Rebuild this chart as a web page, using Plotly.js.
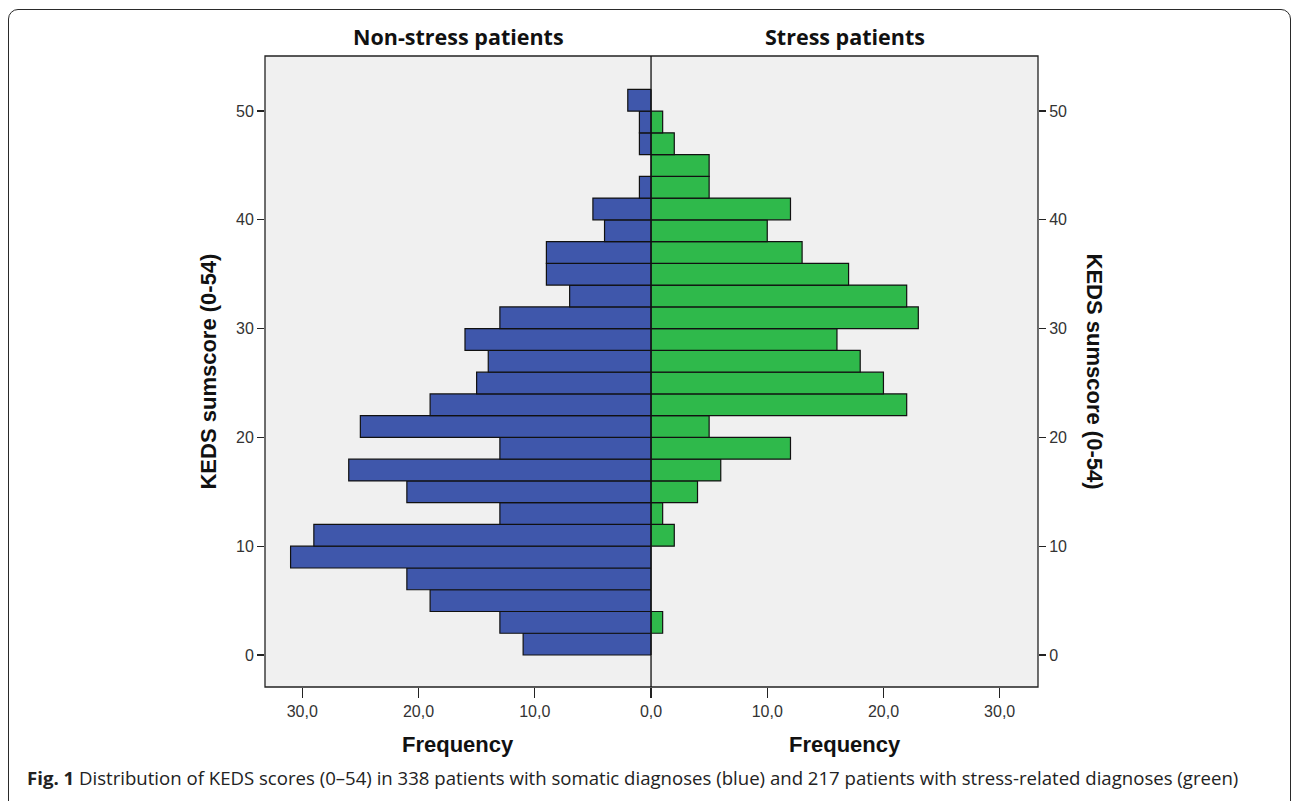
<!DOCTYPE html>
<html>
<head>
<meta charset="utf-8">
<script src="https://cdn.plot.ly/plotly-3.0.1.min.js"></script>
<style>
  html, body { margin: 0; padding: 0; background: #ffffff; width: 1292px; height: 801px; overflow: hidden; }
  #frame { position: absolute; left: 8px; top: 9px; width: 1283px; height: 900px;
           border: 1.6px solid #2a2a2a; border-radius: 10px 10px 0 0; box-sizing: border-box; }
  #chart { position: absolute; left: 0; top: 0; width: 1292px; height: 801px; }
</style>
</head>
<body>
<div id="frame"></div>
<div id="chart"></div>
<script>
// KEDS sumscore bins of width 2: [0,2), [2,4), ... [50,52]; centres listed
const binCenters = [1, 3, 5, 7, 9, 11, 13, 15, 17, 19, 21, 23, 25, 27, 29, 31, 33, 35, 37, 39, 41, 43, 45, 47, 49, 51];
// Frequency per bin, bottom (0-2) to top (50-52)
const nonStressFreq = [11, 13, 19, 21, 31, 29, 13, 21, 26, 13, 25, 19, 15, 14, 16, 13, 7, 9, 9, 4, 5, 1, 0, 1, 1, 2];
const stressFreq    = [0, 1, 0, 0, 0, 2, 1, 4, 6, 12, 5, 22, 20, 18, 16, 23, 22, 17, 13, 10, 12, 5, 5, 2, 1, 0];
const yTickVals = [0, 10, 20, 30, 40, 50];
const xTickValsLeft = [0, 10, 20, 30];
const xTickValsRight = [10, 20, 30];

const blue = '#3f57ab';
const green = '#2fb94b';

const traces = [
  {
    type: 'bar', orientation: 'h', x: nonStressFreq, y: binCenters, width: 2,
    xaxis: 'x', yaxis: 'y',
    marker: { color: blue, line: { color: '#111111', width: 1.2 } },
    hoverinfo: 'x+y', showlegend: false
  },
  {
    type: 'bar', orientation: 'h', x: stressFreq, y: binCenters, width: 2,
    xaxis: 'x2', yaxis: 'y2',
    marker: { color: green, line: { color: '#111111', width: 1.2 } },
    hoverinfo: 'x+y', showlegend: false
  }
];

const tickFont = { family: 'Liberation Sans, Arial, sans-serif', size: 16, color: '#333333' };
const boldFont = { family: 'Liberation Sans, Arial, sans-serif', size: 22, color: '#111111' };
const yRange = [-2.94, 55.06];
const split = 0.4994;

const layout = {
  width: 1292, height: 801,
  margin: { l: 265, r: 254, t: 56, b: 114, pad: 0 },
  paper_bgcolor: 'rgba(0,0,0,0)',
  plot_bgcolor: '#f0f0f0',
  separators: ',.',
  showlegend: false,
  xaxis: {
    domain: [0, split], range: [33.2, 0], autorange: false,
    tickvals: xTickValsLeft, tickformat: '.1f',
    ticks: 'outside', ticklen: 10, tickwidth: 1.2, tickcolor: '#222222',
    tickfont: tickFont, showgrid: false, zeroline: false, showline: false,
    anchor: 'y', fixedrange: true
  },
  xaxis2: {
    domain: [split, 1], range: [0, 33.3], autorange: false,
    tickvals: xTickValsRight, tickformat: '.1f',
    ticks: 'outside', ticklen: 10, tickwidth: 1.2, tickcolor: '#222222',
    tickfont: tickFont, showgrid: false, zeroline: false, showline: false,
    anchor: 'y2', fixedrange: true
  },
  yaxis: {
    domain: [0, 1], range: yRange, autorange: false,
    tickvals: yTickVals, ticks: 'outside', ticklen: 7, tickwidth: 1.2, tickcolor: '#222222',
    tickfont: tickFont, showgrid: false, zeroline: false, showline: false,
    anchor: 'x', side: 'left', fixedrange: true
  },
  yaxis2: {
    domain: [0, 1], range: yRange, autorange: false,
    tickvals: yTickVals, ticks: 'outside', ticklen: 7, tickwidth: 1.2, tickcolor: '#222222',
    tickfont: tickFont, showgrid: false, zeroline: false, showline: false,
    anchor: 'x2', side: 'right', fixedrange: true
  },
  shapes: [
    { type: 'rect', xref: 'paper', yref: 'paper', x0: 0, x1: 1, y0: 0, y1: 1,
      line: { color: '#222222', width: 1.3 }, layer: 'above' },
    { type: 'line', xref: 'paper', yref: 'paper', x0: split, x1: split, y0: 0, y1: 1,
      line: { color: '#111111', width: 1.3 }, layer: 'above' }
  ],
  annotations: [
    { text: 'Non-stress patients', xref: 'paper', yref: 'paper', x: 0.2497, y: 1.031,
      xanchor: 'center', yanchor: 'middle', showarrow: false,
      font: { family: 'Open Sans, sans-serif', size: 21.5, color: '#111111', weight: 'bold' } },
    { text: 'Stress patients', xref: 'paper', yref: 'paper', x: 0.7503, y: 1.031,
      xanchor: 'center', yanchor: 'middle', showarrow: false,
      font: { family: 'Open Sans, sans-serif', size: 21.5, color: '#111111', weight: 'bold' } },
    { text: '<b>Frequency</b>', xref: 'paper', yref: 'paper', x: 0.2497, y: -0.0919,
      xanchor: 'center', yanchor: 'middle', showarrow: false, font: boldFont },
    { text: '<b>Frequency</b>', xref: 'paper', yref: 'paper', x: 0.7503, y: -0.0919,
      xanchor: 'center', yanchor: 'middle', showarrow: false, font: boldFont },
    { text: '<b>KEDS sumscore (0-54)</b>', xref: 'paper', yref: 'paper', x: -0.0737, y: 0.50,
      xanchor: 'center', yanchor: 'middle', textangle: -90, showarrow: false, font: boldFont },
    { text: '<b>KEDS sumscore (0-54)</b>', xref: 'paper', yref: 'paper', x: 1.0737, y: 0.50,
      xanchor: 'center', yanchor: 'middle', textangle: 90, showarrow: false, font: boldFont },
    { text: '<b>Fig. 1</b> Distribution of KEDS scores (0–54) in 338 patients with somatic diagnoses (blue) and 217 patients with stress-related diagnoses (green)',
      xref: 'paper', yref: 'paper', x: (25 - 265) / 773, y: -0.143,
      xanchor: 'left', yanchor: 'middle', showarrow: false,
      font: { family: 'Open Sans, sans-serif', size: 18.6, color: '#222222' } }
  ]
};

Plotly.newPlot('chart', traces, layout, { displayModeBar: false, staticPlot: true });
</script>
</body>
</html>
